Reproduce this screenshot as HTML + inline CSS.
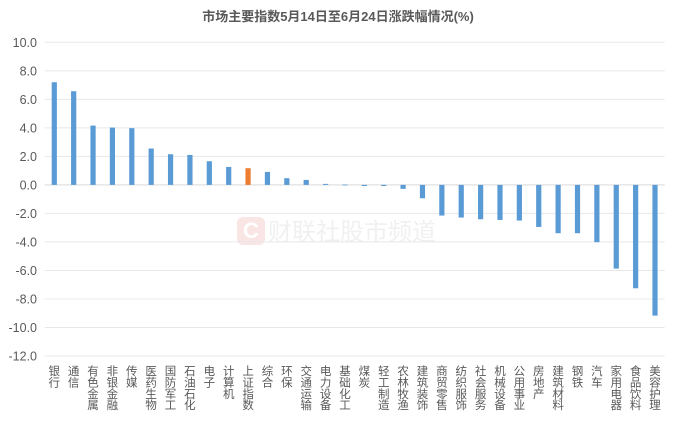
<!DOCTYPE html>
<html><head><meta charset="utf-8"><style>
body{margin:0;background:#fff;}
svg text{font-family:"Liberation Sans","Noto Sans CJK SC",sans-serif;}
</style></head><body>
<svg width="692" height="418" xmlns="http://www.w3.org/2000/svg">
<rect width="692" height="418" fill="#fff"/>
<text x="338" y="21" text-anchor="middle" font-size="13" font-weight="bold" fill="#595959">市场主要指数5月14日至6月24日涨跌幅情况(%)</text>
<g id="wm" opacity="0.12">
<rect x="237" y="217" width="28" height="28" rx="6" fill="#d33"/>
<text x="251" y="238" text-anchor="middle" font-size="22" font-weight="bold" fill="#fff">C</text>
<text x="268" y="240" font-size="24" fill="#888">财联社股市频道</text>
</g>
<g id="grid"></g><g id="bars"></g><g id="ylabels"></g><g id="xlabels"></g>
</svg>
<script>
const categories=["银行","通信","有色金属","非银金融","传媒","医药生物","国防军工","石油石化","电子","计算机","上证指数","综合","环保","交通运输","电力设备","基础化工","煤炭","轻工制造","农林牧渔","建筑装饰","商贸零售","纺织服饰","社会服务","机械设备","公用事业","房地产","建筑材料","钢铁","汽车","家用电器","食品饮料","美容护理"];
const values=[7.2,6.57,4.16,4.02,3.98,2.55,2.15,2.1,1.66,1.26,1.17,0.91,0.47,0.35,0.07,0.02,-0.08,-0.08,-0.28,-0.94,-2.15,-2.29,-2.41,-2.46,-2.5,-2.95,-3.39,-3.39,-4.02,-5.87,-7.25,-9.17];
const highlight=["上证指数"];
const yTicks=[10,8,6,4,2,0,-2,-4,-6,-8,-10,-12];
const NS="http://www.w3.org/2000/svg";
const x0=44.6,x1=664.7,yTop=42.3,yBot=356;
const yMax=10,yMin=-12;
const y=v=>yTop+(yMax-v)/(yMax-yMin)*(yBot-yTop);
const bw=(x1-x0)/categories.length;
const xc=i=>x0+bw*(i+0.5);
function mk(t,a){const e=document.createElementNS(NS,t);for(const k in a)e.setAttribute(k,a[k]);return e;}
const grid=document.getElementById('grid'),bars=document.getElementById('bars'),yl=document.getElementById('ylabels'),xl=document.getElementById('xlabels');
yTicks.forEach(t=>{
 const l=mk('line',{x1:x0,x2:x1,y1:y(t),y2:y(t),stroke:t===0?'#d9d9d9':'#e8e8e8','stroke-width':1});
 
 
 grid.appendChild(l);
 const tx=mk('text',{x:37,y:y(t)+4.5,'text-anchor':'end','font-size':12.5,fill:'#595959'});
 tx.textContent=t.toFixed(1);
 
 
 yl.appendChild(tx);
});
categories.forEach((c,i)=>{
 const v=values[i];
 const top=Math.min(y(v),y(0)),h=Math.max(Math.abs(y(v)-y(0)),0.8);
 const r=mk('rect',{x:xc(i)-2.6,y:top,width:5.2,height:h,fill:highlight.includes(c)?'#ed7d31':'#5b9bd5'});
 
 
 bars.appendChild(r);
 const g=mk('text',{x:xc(i),y:375,'text-anchor':'middle','font-size':11.5,fill:'#595959'});
 
 
 [...c].forEach((ch,k)=>{const s=mk('tspan',{x:xc(i),y:375+k*11.4});s.textContent=ch;g.appendChild(s);});
 xl.appendChild(g);
});
</script>
</body></html>
